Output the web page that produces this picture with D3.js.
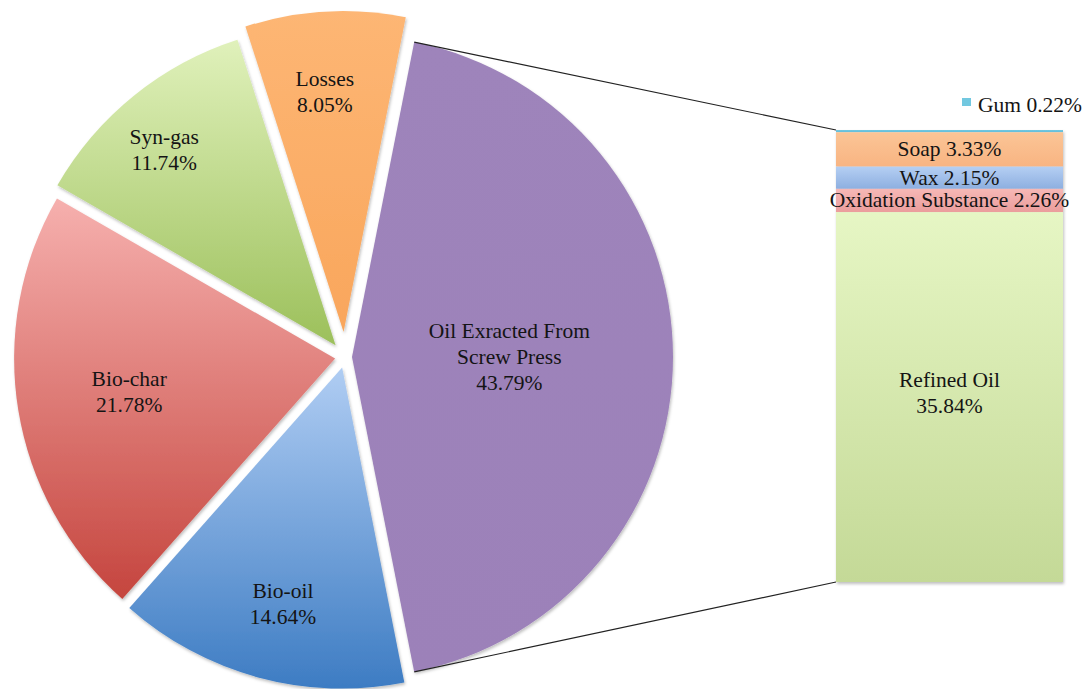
<!DOCTYPE html>
<html>
<head>
<meta charset="utf-8">
<script src="https://cdn.jsdelivr.net/npm/d3@7"></script>
<style>
  html, body { margin: 0; padding: 0; background: #ffffff; }
  svg { display: block; }
  text { font-family: "Liberation Serif", "Times New Roman", serif; font-size: 21.5px; fill: #141414; }
</style>
</head>
<body>
<svg id="chart" width="1091" height="689"></svg>
<script>
// Pie slices (percent of total mass)
const pieNames  = ["Oil Exracted From|Screw Press", "Bio-oil", "Bio-char", "Syn-gas", "Losses"];
const pieValues = [43.79, 14.64, 21.78, 11.74, 8.05];

// Breakdown of the oil slice, stacked top to bottom
const barNames  = ["Gum", "Soap", "Wax", "Oxidation Substance", "Refined Oil"];
const barValues = [0.22, 3.33, 2.15, 2.26, 35.84];

// Styling per slice / segment
const pieStyle = {
  "Oil Exracted From|Screw Press": { top: "#9e84bb", bottom: "#9c81b9", explode: 7,  labelR: 0.49, labelA: 0 },
  "Bio-oil":   { top: "#b0cdf3", bottom: "#3d7cc3", explode: 11, labelR: 0.76, labelA: -0.02 },
  "Bio-char":  { top: "#f6b0ae", bottom: "#c5453e", explode: 10, labelR: 0.65, labelA: 0 },
  "Syn-gas":   { top: "#e0f1bb", bottom: "#9cc05b", explode: 15, labelR: 0.81, labelA: -0.04 },
  "Losses":    { top: "#fdb674", bottom: "#f9a65c", explode: 25, labelR: 0.75, labelA: -0.02 }
};
const barStyle = {
  "Gum":                 { top: "#72c8e0", bottom: "#62bcd8" },
  "Soap":                { top: "#fbc596", bottom: "#f8b482" },
  "Wax":                 { top: "#b5cff3", bottom: "#8dafe0" },
  "Oxidation Substance": { top: "#f6b8b6", bottom: "#eb9d9c" },
  "Refined Oil":         { top: "#e6f6c4", bottom: "#c4d997" }
};

const svg = d3.select("#chart");
const defs = svg.append("defs");

// soft shadow under the marks
const shadow = defs.append("filter").attr("id", "shadow")
  .attr("x", "-10%").attr("y", "-10%").attr("width", "120%").attr("height", "120%");
shadow.append("feDropShadow").attr("dx", 1).attr("dy", 2).attr("stdDeviation", 1.5)
  .attr("flood-color", "#000").attr("flood-opacity", 0.25);

function addGradient(id, c1, c2) {
  const g = defs.append("linearGradient").attr("id", id)
    .attr("x1", 0).attr("y1", 0).attr("x2", 0).attr("y2", 1);
  g.append("stop").attr("offset", "0%").attr("stop-color", c1);
  g.append("stop").attr("offset", "100%").attr("stop-color", c2);
}

// ---- Pie ----
const cx = 345, cy = 357, radius = 321;
const total = d3.sum(pieValues);
const firstSweep = pieValues[0] / total * 2 * Math.PI;
const start = Math.PI / 2 - firstSweep / 2;

const pieData = pieNames.map((n, i) => ({ name: n, value: pieValues[i] }));
const arcs = d3.pie().sort(null).value(d => d.value)
  .startAngle(start).endAngle(start + 2 * Math.PI)(pieData);

const arcGen = d3.arc().innerRadius(0).outerRadius(radius);

const pieG = svg.append("g");
arcs.forEach((a, i) => {
  const st = pieStyle[a.data.name];
  const mid = (a.startAngle + a.endAngle) / 2;
  a.ox = cx + st.explode * Math.sin(mid);
  a.oy = cy - st.explode * Math.cos(mid);
  addGradient("pg" + i, st.top, st.bottom);
});

// connector lines from the oil slice to the bar
const yBar = d3.scaleLinear().domain([0, d3.sum(barValues)]).range([130, 582]);
const barX0 = 836, barX1 = 1063;
const oil = arcs[0];
const p1 = [oil.ox + radius * Math.sin(oil.startAngle), oil.oy - radius * Math.cos(oil.startAngle)];
const p2 = [oil.ox + radius * Math.sin(oil.endAngle),   oil.oy - radius * Math.cos(oil.endAngle)];
svg.append("line").attr("x1", p1[0]).attr("y1", p1[1]).attr("x2", barX0).attr("y2", yBar(0))
  .attr("stroke", "#222").attr("stroke-width", 1.2);
svg.append("line").attr("x1", p2[0]).attr("y1", p2[1]).attr("x2", barX0).attr("y2", yBar(d3.sum(barValues)))
  .attr("stroke", "#222").attr("stroke-width", 1.2);

pieG.selectAll("path").data(arcs).join("path")
  .attr("transform", d => `translate(${d.ox},${d.oy})`)
  .attr("d", arcGen)
  .attr("fill", (d, i) => `url(#pg${i})`)
  .attr("filter", "url(#shadow)");

// slice labels
arcs.forEach(a => {
  const st = pieStyle[a.data.name];
  const mid = (a.startAngle + a.endAngle) / 2 + st.labelA;
  const r = radius * st.labelR;
  const lx = a.ox + r * Math.sin(mid);
  const ly = a.oy - r * Math.cos(mid);
  const lines = a.data.name.split("|").concat([a.data.value.toFixed(2) + "%"]);
  const lh = 26;
  const t = svg.append("text").attr("text-anchor", "middle");
  lines.forEach((ln, k) => {
    t.append("tspan").attr("x", lx)
      .attr("y", ly + (k - (lines.length - 1) / 2) * lh + 7)
      .text(ln);
  });
});

// ---- Stacked bar ----
let acc = 0;
const segs = barNames.map((n, i) => {
  const s = { name: n, value: barValues[i], y0: acc, y1: acc + barValues[i] };
  acc += barValues[i];
  return s;
});
segs.forEach((s, i) => addGradient("bg" + i, barStyle[s.name].top, barStyle[s.name].bottom));

svg.append("g").attr("filter", "url(#shadow)")
  .selectAll("rect").data(segs).join("rect")
  .attr("x", barX0).attr("width", barX1 - barX0)
  .attr("y", d => yBar(d.y0))
  .attr("height", d => yBar(d.y1) - yBar(d.y0))
  .attr("fill", (d, i) => `url(#bg${i})`);

// segment labels (Gum is labelled beside the bar with a marker)
segs.forEach((s, i) => {
  const midY = (yBar(s.y0) + yBar(s.y1)) / 2;
  const xm = (barX0 + barX1) / 2;
  if (s.name === "Gum") {
    svg.append("rect").attr("x", 962).attr("y", 98).attr("width", 9).attr("height", 8)
      .attr("fill", barStyle[s.name].top);
    svg.append("text").attr("x", 978).attr("y", 112).text(`${s.name} ${s.value.toFixed(2)}%`);
  } else if (s.name === "Refined Oil") {
    const t = svg.append("text").attr("text-anchor", "middle");
    t.append("tspan").attr("x", xm).attr("y", midY - 10).text(s.name);
    t.append("tspan").attr("x", xm).attr("y", midY + 16).text(s.value.toFixed(2) + "%");
  } else {
    svg.append("text").attr("text-anchor", "middle").attr("x", xm).attr("y", midY + 7)
      .text(`${s.name} ${s.value.toFixed(2)}%`);
  }
});
</script>
</body>
</html>
